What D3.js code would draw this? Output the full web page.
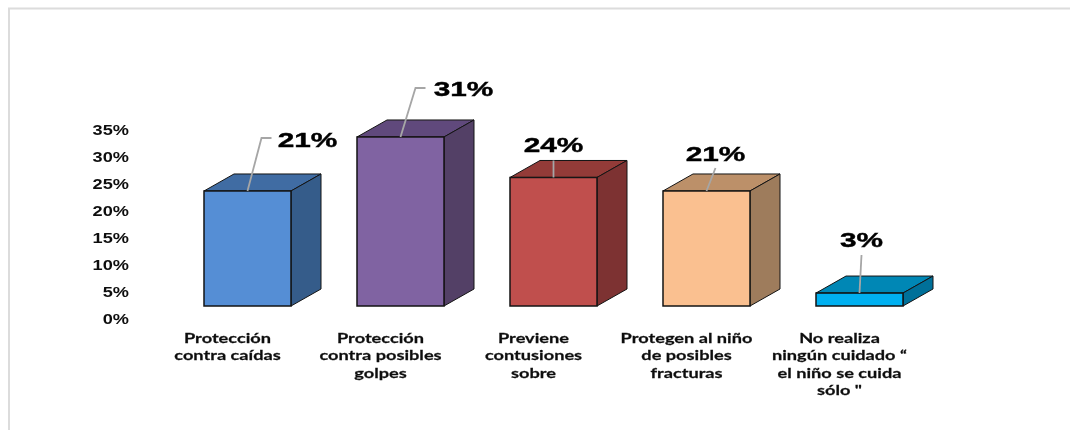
<!DOCTYPE html>
<html><head><meta charset="utf-8">
<script src="https://cdn.jsdelivr.net/npm/d3@7"></script>
<style>html,body{margin:0;padding:0;background:#fff}svg{display:block}</style>
</head><body><svg id="c" width="1070" height="430"></svg>
<script>
const categories = ["Protección contra caídas","Protección contra posibles golpes","Previene contusiones sobre","Protegen al niño de posibles fracturas","No realiza ningún cuidado “ el niño se cuida sólo \""];
const categoryLines = [["Protección","contra caídas"],["Protección","contra posibles","golpes"],["Previene","contusiones","sobre"],["Protegen al niño","de posibles","fracturas"],["No realiza","ningún cuidado “","el niño se cuida","sólo \""]];
const values = [21.3,31.3,23.8,21.3,2.4];
const valueLabels = ["21%","31%","24%","21%","3%"];
const yTicks = [0,5,10,15,20,25,30,35];
const frontColors = ["#558ED5","#8064A2","#C0504D","#FAC090","#00B0F0"];
const topColors = ["#3F6CA3","#604A7B","#933A38","#BC9069","#0087B5"];
const sideColors = ["#355C8A","#523F66","#7D3130","#9E7B5B","#006F99"];
// leader paths relative to the centre of the bar's top edge, and label anchor relative to the same point
const leaders = [[[0,0],[14,-53],[24,-53]],[[0,0],[15,-49],[25,-49]],[[0,0],[0,-17]],[[0,0],[9,-23]],[[0,0],[2,-38]]];
const labelOffsets = [[60,-44],[63,-41],[0,-25],[9,-30],[2,-46]];

const root = d3.select("#c");
const defs = root.append("defs");
defs.append("filter").attr("id","soft").attr("x",0).attr("y",0).attr("width",1).attr("height",1)
  .append("feGaussianBlur").attr("stdDeviation",0.45);
const svg = root.append("g").attr("filter","url(#soft)");
svg.append("rect").attr("width",1070).attr("height",430).attr("fill","#fff");
const dx = 30, dy = -17;
const x = d3.scaleBand().domain(d3.range(categories.length)).range([204,903]).paddingInner(66/153).paddingOuter(0);
const y = d3.scaleLinear().domain([0,35]).range([306,117]);

// frame
svg.append("path").attr("d","M9,430V8.5H1070").attr("fill","none").attr("stroke","#dcdcdc").attr("stroke-width",2);

// y axis (labels only)
const axis = d3.axisLeft(y).tickValues(yTicks).tickFormat(d=>d+"%").tickSize(0).tickPadding(0);
const ax = svg.append("g").attr("transform","translate(129,13)").call(axis);
ax.select(".domain").remove();
ax.selectAll("text").attr("font-family","'Liberation Sans',sans-serif").attr("font-weight","bold").attr("font-size",14).attr("fill","#111")
  .attr("transform","scale(1.3,1)");

const bars = svg.append("g").selectAll("g").data(values).join("g");
const outline = "#141414";
bars.append("path").attr("fill",(d,i)=>topColors[i]).attr("stroke",outline).attr("stroke-width",1)
  .attr("d",(d,i)=>{const l=x(i),r=l+x.bandwidth(),t=y(d);return `M${l},${t}L${l+dx},${t+dy}H${r+dx}L${r},${t}Z`;});
bars.append("path").attr("fill",(d,i)=>sideColors[i]).attr("stroke",outline).attr("stroke-width",1)
  .attr("d",(d,i)=>{const r=x(i)+x.bandwidth(),t=y(d),b=y(0);return `M${r},${t}L${r+dx},${t+dy}V${b+dy}L${r},${b}Z`;});
bars.append("rect").attr("x",(d,i)=>x(i)).attr("y",d=>y(d)).attr("width",x.bandwidth()).attr("height",d=>y(0)-y(d))
  .attr("fill",(d,i)=>frontColors[i]).attr("stroke",outline).attr("stroke-width",1.5);

const cx = i=>x(i)+x.bandwidth()/2;
bars.append("path").attr("fill","none").attr("stroke","#a6a6a6").attr("stroke-width",1.8)
  .attr("d",(d,i)=>d3.line()(leaders[i].map(p=>[cx(i)+p[0],y(d)+p[1]])));
bars.append("text").text((d,i)=>valueLabels[i])
  .attr("transform",(d,i)=>`translate(${cx(i)+labelOffsets[i][0]},${y(d)+labelOffsets[i][1]}) scale(1.42,1)`)
  .attr("text-anchor","middle").attr("font-family","'Liberation Sans',sans-serif").attr("font-weight","bold")
  .attr("font-size",21).attr("fill","#000").attr("stroke","#000").attr("stroke-width",0.4);

// category labels
const cat = svg.append("g").selectAll("text").data(categoryLines).join("text")
  .attr("transform",(d,i)=>`translate(${cx(i)-20},0) scale(1.3,1)`)
  .attr("text-anchor","middle").attr("font-family","Lato,sans-serif").attr("font-weight","bold")
  .attr("font-size",14).attr("fill","#111").attr("stroke","#111").attr("stroke-width",0.25);
cat.selectAll("tspan").data((d,i)=>d.map(s=>({s,i}))).join("tspan")
  .attr("x",0).attr("y",(d,j)=>343+j*17.5).text(d=>d.s);
</script></body></html>
